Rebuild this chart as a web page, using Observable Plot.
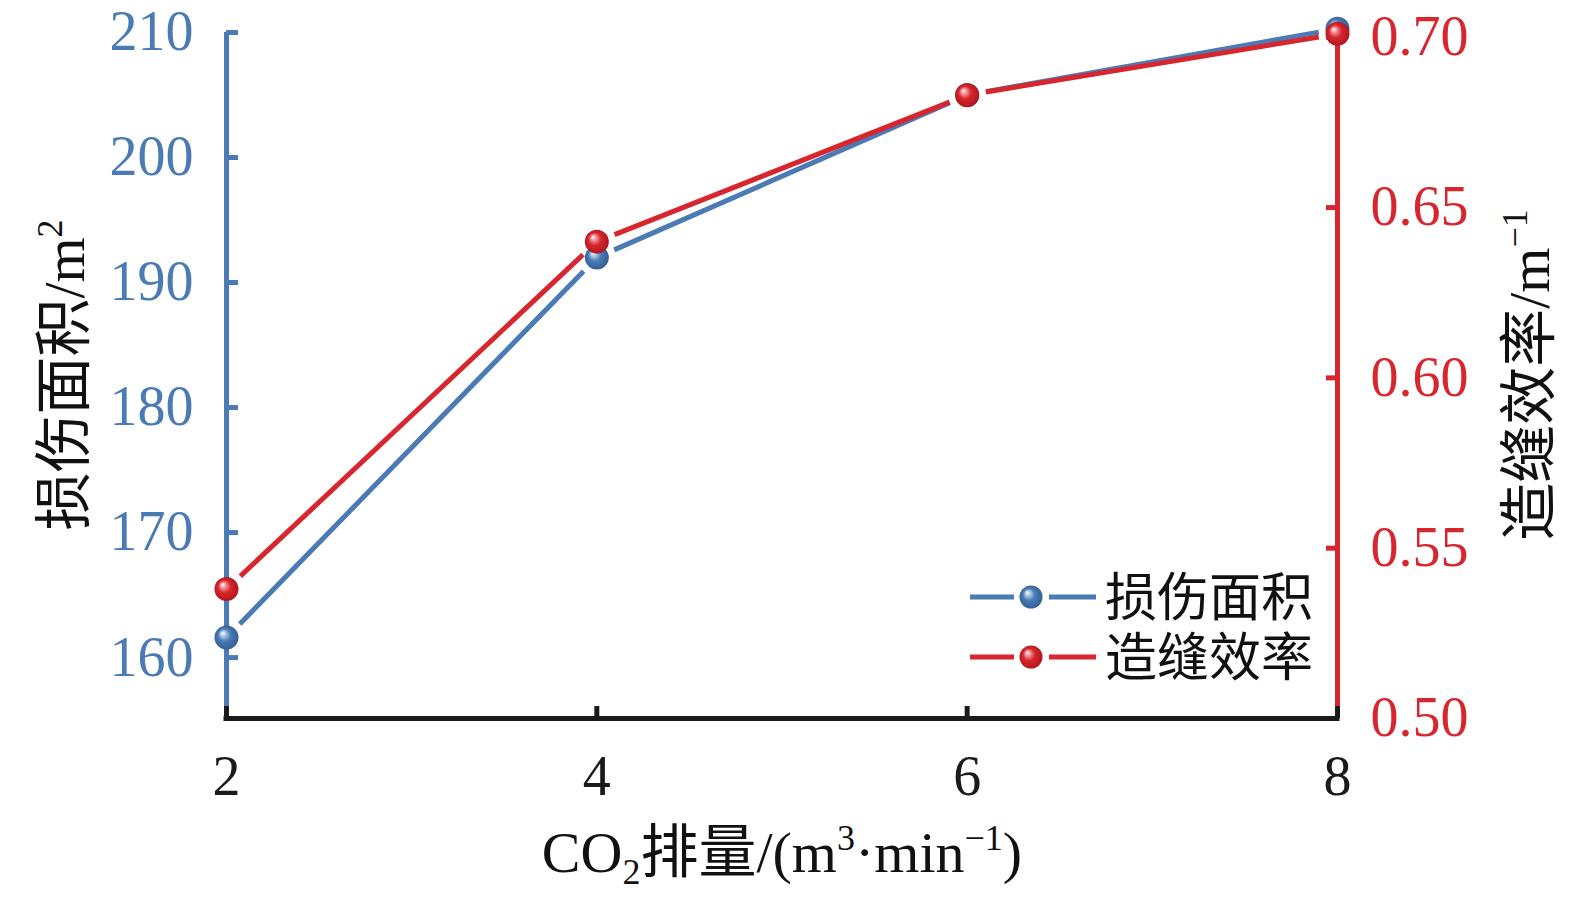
<!DOCTYPE html>
<html><head><meta charset="utf-8">
<script src="https://cdn.jsdelivr.net/npm/d3@7"></script>
<script src="https://cdn.jsdelivr.net/npm/@observablehq/plot@0.6"></script>
<style>body{margin:0;background:#fff}</style>
</head><body><div id="chart"></div>
<script>
// ---- data ----
const xValues = [2, 4, 6, 8];                 // CO2 排量 m3/min
const damageArea = [161.6, 192.0, 205.0, 210.3]; // 损伤面积 m2
const crackEff = [0.538, 0.640, 0.683, 0.701];   // 造缝效率 m-1
const xTicks = [2, 4, 6, 8];
const leftTicks = [160, 170, 180, 190, 200, 210];
const rightTicks = [0.50, 0.55, 0.60, 0.65, 0.70];
const seriesNames = ["损伤面积", "造缝效率"];

// ---- styling ----
const BLUE = "#4a7bb4", RED = "#d8262e", BLACK = "#1a1a1a";
const FONT = "'Liberation Serif', 'Noto Sans CJK SC', serif";
const leftMin = 155.128, leftMax = 210;
const rMin = 0.50, rMax = 0.70, rTopLeft = 209.62;
const toLeft = v => leftMin + (v - rMin) / (rMax - rMin) * (rTopLeft - leftMin);
const fromLeft = d => rMin + (d - leftMin) / (rTopLeft - leftMin) * (rMax - rMin);

const blueData = xValues.map((x, i) => ({x, y: damageArea[i]}));
const redData = xValues.map((x, i) => ({x, y: toLeft(crackEff[i])}));
const segs = d => d.slice(0, -1).map((p, i) => ({x1: p.x, y1: p.y, x2: d[i + 1].x, y2: d[i + 1].y}));
const lineOpts = c => ({x1: "x1", y1: "y1", x2: "x2", y2: "y2", stroke: c, strokeWidth: 5,
  headLength: 0, insetStart: 19, insetEnd: 19, strokeLinecap: "butt"});

const W = 1575, H = 902;
const plot = Plot.plot({
  width: W, height: H,
  marginLeft: 226, marginRight: 238, marginTop: 32, marginBottom: 184,
  style: {fontFamily: FONT, background: "#fff", overflow: "visible"},
  x: {domain: [2, 8]},
  y: {domain: [leftMin, leftMax]},
  marks: [
    Plot.ruleX([2], {stroke: BLUE, strokeWidth: 5}),
    Plot.ruleX([8], {stroke: RED, strokeWidth: 5}),
    Plot.axisY({anchor: "left", ticks: leftTicks, tickFormat: d => String(d), tickSize: -12, tickPadding: 45,
      color: BLUE, strokeWidth: 5, fontSize: 56, label: null}),
    Plot.axisY({anchor: "right", ticks: rightTicks.map(toLeft), tickFormat: d => fromLeft(d).toFixed(2),
      tickSize: -12, tickPadding: 45, color: RED, strokeWidth: 5, fontSize: 56, label: null}),
    Plot.ruleY([leftMin], {stroke: BLACK, strokeWidth: 5, strokeLinecap: "square"}),
    Plot.axisX({ticks: xTicks, tickFormat: d => String(d), tickSize: -12, tickPadding: 49,
      color: BLACK, strokeWidth: 5, fontSize: 56, label: null}),
    Plot.arrow(segs(blueData), lineOpts(BLUE)),
    Plot.dot(blueData, {x: "x", y: "y", r: 12, fill: "url(#gBlue)", stroke: "none"}),
    Plot.arrow(segs(redData), lineOpts(RED)),
    Plot.dot(redData, {x: "x", y: "y", r: 12, fill: "url(#gRed)", stroke: "none"})
  ]
});
document.getElementById("chart").appendChild(plot);

const svg = d3.select(plot);
const defs = svg.insert("defs", ":first-child");
function grad(id, light, mid, dark) {
  const g = defs.append("radialGradient").attr("id", id)
    .attr("cx", "50%").attr("cy", "50%").attr("r", "55%").attr("fx", "33%").attr("fy", "30%");
  g.append("stop").attr("offset", "0%").attr("stop-color", "#ffffff");
  g.append("stop").attr("offset", "16%").attr("stop-color", light);
  g.append("stop").attr("offset", "48%").attr("stop-color", mid);
  g.append("stop").attr("offset", "100%").attr("stop-color", dark);
}
grad("gBlue", "#bcd2ec", BLUE, "#2f5c92");
grad("gRed", "#f4a7ac", RED, "#a8161c");

// legend
const legend = svg.append("g").attr("font-family", FONT).attr("text-anchor", "start");
[[seriesNames[0], BLUE, "gBlue", 597], [seriesNames[1], RED, "gRed", 657]].forEach(([name, c, g, y]) => {
  legend.append("line").attr("x1", 970).attr("x2", 1014).attr("y1", y).attr("y2", y).attr("stroke", c).attr("stroke-width", 5);
  legend.append("line").attr("x1", 1049).attr("x2", 1096).attr("y1", y).attr("y2", y).attr("stroke", c).attr("stroke-width", 5);
  legend.append("circle").attr("cx", 1031).attr("cy", y).attr("r", 11.5).attr("fill", `url(#${g})`);
  legend.append("text").attr("x", 1105).attr("y", y).attr("dy", "0.36em").attr("text-anchor", "start")
    .attr("font-size", 52).attr("fill", "#111").text(name);
});

// axis titles
const xl = svg.append("text").attr("x", 782).attr("y", 872).attr("text-anchor", "middle")
  .attr("font-family", FONT).attr("font-size", 58).attr("fill", "#111");
xl.append("tspan").text("CO");
xl.append("tspan").attr("font-size", 36).attr("dy", 12).text("2");
xl.append("tspan").attr("dy", -12).text("排量/(m");
xl.append("tspan").attr("font-size", 36).attr("dy", -22).text("3");
xl.append("tspan").attr("dy", 22).text("·min");
xl.append("tspan").attr("font-size", 36).attr("dy", -22).text("−1");
xl.append("tspan").attr("dy", 22).text(")");

const yl = svg.append("text").attr("transform", "translate(84,375) rotate(-90)").attr("text-anchor", "middle")
  .attr("font-family", FONT).attr("font-size", 58).attr("fill", "#111");
yl.append("tspan").text("损伤面积/m");
yl.append("tspan").attr("font-size", 36).attr("dy", -22).text("2");

const yr = svg.append("text").attr("transform", "translate(1549,375) rotate(-90)").attr("text-anchor", "middle")
  .attr("font-family", FONT).attr("font-size", 58).attr("fill", "#111");
yr.append("tspan").text("造缝效率/m");
yr.append("tspan").attr("font-size", 36).attr("dy", -22).text("−1");
</script>
</body></html>
